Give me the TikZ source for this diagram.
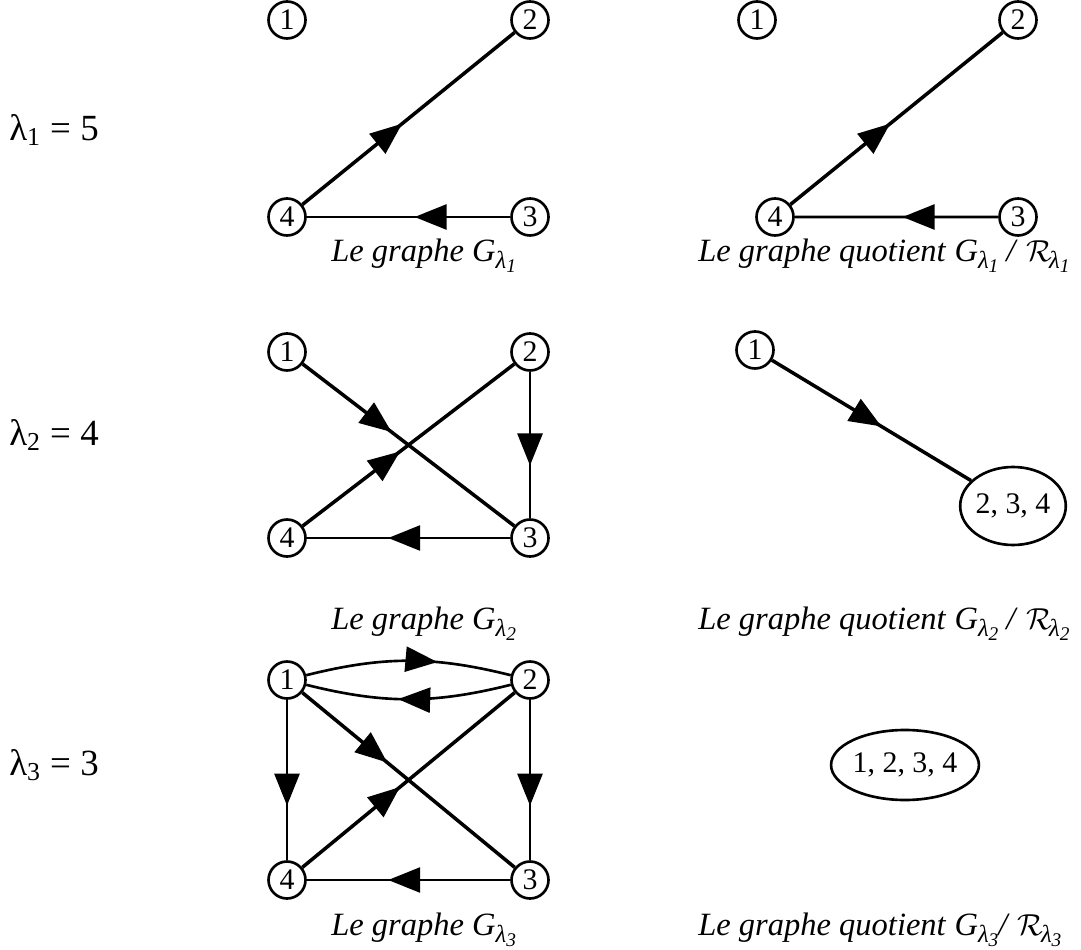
\documentclass[tikz,border=0pt]{standalone}
\usepackage{amssymb}
\usepackage{amsmath}
\usepackage{fontspec}
\setmainfont{Liberation Serif}
\usetikzlibrary{arrows.meta,decorations.markings,shapes.geometric}
\newcommand{\lamsub}[1]{\raisebox{-0.45ex}{\fontsize{14}{14}\selectfont\textit{λ}\raisebox{-0.35ex}{\fontsize{11}{11}\selectfont\textit{#1}}}}
\newcommand{\Glam}[1]{\textit{G}\lamsub{#1}}
\newcommand{\Rlam}[1]{$\mathcal{R}$\kern-1.5pt\lamsub{#1}}

\begin{document}
\begin{tikzpicture}[x=0.2mm, y=0.2mm, line width=1.5pt, node distance={48.6mm},
    vertex/.style = {draw, circle, minimum size=7.4mm, inner sep=0pt, font=\fontsize{17}{17}\selectfont},
    classe/.style = {draw, ellipse, inner sep=0pt, font=\fontsize{17}{17}\selectfont},
    legende/.style = {inner sep=0pt, font=\fontsize{18.5}{20}\selectfont},
    diag/.style = {line width=2pt},
    midarrow/.style = {postaction={decorate}, decoration={markings, mark=at position #1 with {\arrow{Triangle[length=6.4mm, width=5mm]}}}}]
                \useasboundingbox (0,0) rectangle (1081,-950);
                % lambda_1 = 5
                \node[legende, font=\fontsize{21}{23}\selectfont] (l1) at (54,-130) {λ\textsubscript{1} = 5};
                \node[vertex] (a1) at (287,-20) {1};
                \node[vertex] (a2) [right of=a1] {2};
                \node[vertex] (a4) [below of=a1, node distance=39.4mm] {4};
                \node[vertex] (a3) [right of=a4] {3};
                \draw[diag, midarrow=0.47] (a4) -- (a2);
                \draw[midarrow=0.47] (a3) -- (a4);
                \node[legende, anchor=west] (ta) at (330,-256) {\textit{Le graphe} \Glam{1}};
                \node[vertex] (p1) at (757,-20) {1};
                \node[vertex] (p2) at (1018,-20) {2};
                \node[vertex] (p4) at (775,-217) {4};
                \node[vertex] (p3) [below of=p2, node distance=39.4mm] {3};
                \draw[diag, midarrow=0.47] (p4) -- (p2);
                \draw[midarrow=0.47] (p3) -- (p4);
                \node[legende, anchor=west] (tp) at (697,-256) {\textit{Le graphe quotient} \Glam{1} \textit{/} \Rlam{1}};
                % lambda_2 = 4
                \node[legende, font=\fontsize{21}{23}\selectfont] (l2) at (54,-435) {λ\textsubscript{2} = 4};
                \node[vertex] (b1) at (287,-352) {1};
                \node[vertex] (b2) [right of=b1] {2};
                \node[vertex] (b4) [below of=b1, node distance=37.2mm] {4};
                \node[vertex] (b3) [right of=b4] {3};
                \draw[diag, midarrow=0.42] (b1) -- (b3);
                \draw[diag, midarrow=0.46] (b4) -- (b2);
                \draw[midarrow=0.64] (b2) -- (b3);
                \draw[midarrow=0.6] (b3) -- (b4);
                \node[legende, anchor=west] (tb) at (330,-624) {\textit{Le graphe} \Glam{2}};
                \node[vertex] (q1) at (755,-350) {1};
                \node[classe, minimum width=19.6mm, minimum height=15.6mm] (q234) at (1013,-506) {2, 3, 4};
                \draw[diag, midarrow=0.55] (q1) -- (q234);
                \node[legende, anchor=west] (tq) at (697,-624) {\textit{Le graphe quotient} \Glam{2} \textit{/} \Rlam{2}};
                % lambda_3 = 3
                \node[legende, font=\fontsize{21}{23}\selectfont] (l3) at (54,-765) {λ\textsubscript{3} = 3};
                \node[vertex] (c1) at (287,-680) {1};
                \node[vertex] (c2) [right of=c1] {2};
                \node[vertex] (c4) [below of=c1, node distance=40mm] {4};
                \node[vertex] (c3) [right of=c4] {3};
                \draw[midarrow=0.64] (c1) to[bend left=14] (c2);
                \draw[midarrow=0.55] (c2) to[bend left=14] (c1);
                \draw[midarrow=0.66] (c1) -- (c4);
                \draw[midarrow=0.66] (c2) -- (c3);
                \draw[diag, midarrow=0.4] (c1) -- (c3);
                \draw[diag, midarrow=0.46] (c4) -- (c2);
                \draw[midarrow=0.6] (c3) -- (c4);
                \node[legende, anchor=west] (tc) at (330,-930) {\textit{Le graphe} \Glam{3}};
                \node[classe, minimum width=26.8mm, minimum height=14mm] (r1234) at (905,-765) {1, 2, 3, 4};
                \node[legende, anchor=west] (tr) at (697,-930) {\textit{Le graphe quotient} \Glam{3}\textit{/} \Rlam{3}};
            \end{tikzpicture}
\end{document}
